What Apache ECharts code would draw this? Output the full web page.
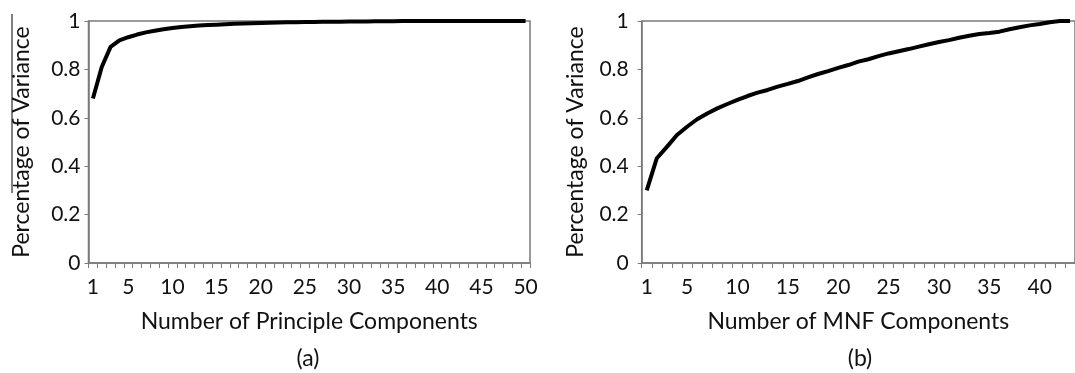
<!DOCTYPE html>
<html>
<head>
<meta charset="utf-8">
<script src="https://cdn.jsdelivr.net/npm/echarts@6/dist/echarts.min.js"></script>
<style>
  html, body { margin: 0; padding: 0; background: #fff; }
  #chart { width: 1075px; height: 373px; }
</style>
</head>
<body>
<div id="chart"></div>
<script>
// cumulative variance, principal components 1..50
const pcaComponents = Array.from({length: 50}, (_, i) => String(i + 1));
const pcaVariance = [
  0.68, 0.81, 0.893, 0.92, 0.933, 0.944, 0.953, 0.96, 0.966, 0.971,
  0.975, 0.978, 0.981, 0.983, 0.985, 0.987, 0.989, 0.99, 0.991, 0.992,
  0.993, 0.994, 0.995, 0.995, 0.996, 0.996, 0.997, 0.997, 0.997, 0.998,
  0.998, 0.998, 0.999, 0.999, 0.999, 1, 1, 1, 1, 1,
  1, 1, 1, 1, 1, 1, 1, 1, 1, 1
];
// cumulative variance, MNF components 1..43
const mnfComponents = Array.from({length: 43}, (_, i) => String(i + 1));
const mnfVariance = [
  0.30, 0.433, 0.48, 0.529, 0.563, 0.594, 0.618, 0.639, 0.657, 0.674,
  0.69, 0.704, 0.715, 0.729, 0.74, 0.752, 0.767, 0.781, 0.793, 0.806,
  0.818, 0.832, 0.842, 0.855, 0.866, 0.875, 0.884, 0.894, 0.904, 0.913,
  0.921, 0.931, 0.939, 0.946, 0.95, 0.956, 0.966, 0.974, 0.982, 0.988,
  0.995, 1, 1
];
const yTicks = [0, 0.2, 0.4, 0.6, 0.8, 1];

const FONT = 'Lato';
const AXIS_COLOR = '#7a7a7a';
const TEXT_COLOR = '#111';
const showLabel = (idx) => idx === 0 || (idx + 1) % 5 === 0;

function xAxisFor(gridIndex, data, name) {
  return {
    type: 'category', gridIndex, data, name,
    nameLocation: 'middle', nameGap: 47,
    nameTextStyle: {fontFamily: FONT, fontSize: 23, color: TEXT_COLOR},
    axisLine: {lineStyle: {color: AXIS_COLOR, width: 1.5}},
    axisTick: {show: true, interval: 0, length: 5, lineStyle: {color: AXIS_COLOR}},
    axisLabel: {interval: showLabel, margin: 14, fontFamily: FONT, fontSize: 21, color: TEXT_COLOR},
    splitLine: {show: false}
  };
}
function yAxisFor(gridIndex, margin) {
  return {
    type: 'value', gridIndex, min: yTicks[0], max: yTicks[yTicks.length - 1], interval: 0.2,
    name: 'Percentage of Variance', nameLocation: 'middle', nameGap: 55,
    nameTextStyle: {fontFamily: FONT, fontSize: 23, color: TEXT_COLOR},
    axisLine: {show: true, lineStyle: {color: AXIS_COLOR, width: 1.5}},
    axisTick: {show: true, length: 4, lineStyle: {color: AXIS_COLOR}},
    axisLabel: {margin, fontFamily: FONT, fontSize: 21, color: TEXT_COLOR},
    splitLine: {show: false}
  };
}

const chart = echarts.init(document.getElementById('chart'));
chart.setOption({
  animation: false,
  backgroundColor: '#fff',
  grid: [
    {left: 88.5, top: 21, width: 441.5, height: 242, show: true, borderColor: AXIS_COLOR, borderWidth: 1.5},
    {left: 641.7, top: 21, width: 440, height: 242, show: true, borderColor: AXIS_COLOR, borderWidth: 1.5}
  ],
  title: [
    {text: '(a)', left: 303, top: 342, textAlign: 'center', textStyle: {fontFamily: FONT, fontSize: 23, fontWeight: 'normal', color: TEXT_COLOR}},
    {text: '(b)', left: 855, top: 342, textAlign: 'center', textStyle: {fontFamily: FONT, fontSize: 23, fontWeight: 'normal', color: TEXT_COLOR}}
  ],
  xAxis: [
    xAxisFor(0, pcaComponents, 'Number of Principle Components'),
    xAxisFor(1, mnfComponents, 'Number of MNF Components')
  ],
  yAxis: [yAxisFor(0, 8), yAxisFor(1, 13)],
  series: [
    {type: 'line', xAxisIndex: 0, yAxisIndex: 0, data: pcaVariance, showSymbol: false,
     lineStyle: {color: '#000', width: 4}},
    {type: 'line', xAxisIndex: 1, yAxisIndex: 1, data: mnfVariance, showSymbol: false,
     lineStyle: {color: '#000', width: 4}}
  ],
  graphic: [
    {type: 'line', shape: {x1: 12, y1: 14, x2: 12, y2: 193}, style: {stroke: '#000', lineWidth: 1}}
  ]
});
</script>
</body>
</html>
